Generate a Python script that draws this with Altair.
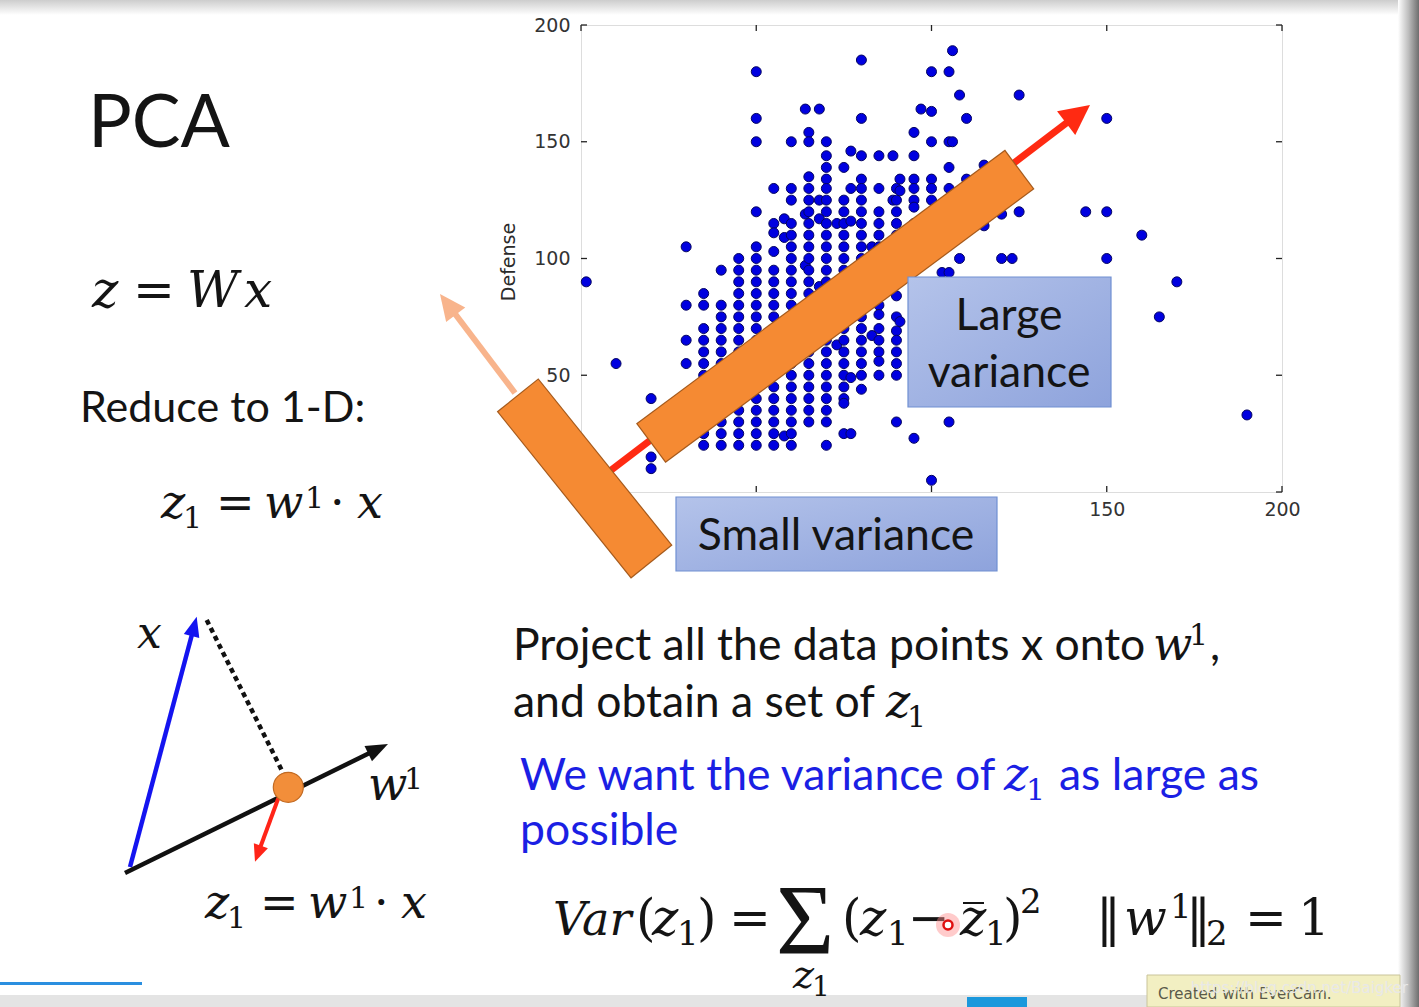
import math
import altair as alt
import pandas as pd

# ---------------------------------------------------------------------------
# Scatter values: Defense readings grouped by Attack value
# ---------------------------------------------------------------------------
DEFENSE_BY_ATTACK = {
    1.5: [90],
    10: [55],
    20: [40, 15, 10],
    30: [105, 80, 65, 55],
    35: [85, 80, 70, 65, 60, 55, 50, 45, 30, 25, 20],
    40: [95, 80, 75, 70, 65, 60, 55, 50, 45, 40, 35, 30, 25, 20],
    45: [100, 95, 90, 85, 80, 75, 70, 65, 60, 55, 50, 45, 40, 35, 30, 25, 20],
    50: [180, 160, 150, 120, 105, 100, 95, 90, 85, 80, 75, 70, 65, 60, 55, 50,
         45, 40, 35, 30, 25, 20],
    55: [130, 115, 111, 103, 95, 90, 85, 80, 75, 70, 65, 60, 55, 50, 45, 40,
         35, 30, 25, 20],
    58: [117, 109, 24],
    60: [150, 130, 125, 115, 110, 105, 100, 95, 90, 85, 80, 75, 70, 65, 60, 55,
         50, 45, 40, 35, 30, 25, 20],
    64: [164, 119, 97],
    65: [154, 150, 135, 130, 125, 120, 115, 110, 105, 100, 95, 90, 85, 80, 75,
         70, 65, 60, 55, 50, 45, 40, 35, 30],
    68: [164, 125, 117, 88],
    70: [150, 144, 139, 134, 130, 125, 120, 115, 110, 105, 100, 95, 90, 85, 80,
         75, 70, 65, 60, 55, 50, 45, 40, 35, 30, 20],
    73: [115, 63],
    75: [139, 125, 120, 115, 110, 105, 100, 95, 90, 85, 80, 75, 70, 65, 60, 55,
         50, 45, 40, 38, 25],
    77: [146, 130, 116, 49, 25],
    80: [185, 160, 144, 134, 130, 125, 120, 115, 110, 105, 100, 95, 90, 85, 80,
         75, 70, 65, 60, 55, 50, 44],
    83: [105, 67],
    85: [144, 130, 120, 115, 110, 105, 100, 95, 90, 85, 80, 76, 70, 65, 60, 56, 50],
    89: [144, 125],
    90: [130, 125, 120, 115, 110, 100, 95, 90, 84, 75, 69, 65, 60, 55, 50, 30],
    91: [134, 129, 73],
    95: [154, 144, 134, 130, 125, 122, 115, 110, 105, 100, 23],
    97: [164],
    100: [180, 163, 150, 134, 130, 125, 120, 110, 105, 5],
    103: [94],
    105: [180, 150, 139, 130, 120, 94, 30],
    106: [189, 150],
    108: [170, 100],
    110: [160, 134, 125],
    115: [140, 114],
    120: [119, 100],
    123: [100],
    125: [170, 120],
    144: [120],
    150: [160, 120, 100],
    160: [110],
    165: [75],
    170: [90],
    190: [33],
}
TICK_VALUES = [0, 50, 100, 150, 200]
X_LABELS = [150, 200]          # 0, 50 and 100 sit under the annotation boxes
Y_LABELS = [50, 100, 150, 200]  # 0 sits under the small slab

attack, defense = [], []
for a, ds in DEFENSE_BY_ATTACK.items():
    for d in ds:
        attack.append(a)
        defense.append(d)
points = pd.DataFrame({"Attack": attack, "Defense": defense})
ticks = pd.DataFrame({"v": TICK_VALUES})

# ---------------------------------------------------------------------------
# Page geometry (the scatter's data rectangle sits inside a 1419x1007 slide)
# ---------------------------------------------------------------------------
PAGE_W, PAGE_H = 1419, 1007
LEFT, TOP, W, H = 581, 25, 701, 467

SANS = "Lato"
MATH = "DejaVu Serif"
INK = "#141414"
BLUE_TXT = "#1b1fe4"
BODY = 44.5
ONE = alt.Data(values=[{}])


def px(x):
    return x - LEFT


def py(y):
    return y - TOP


def text(s, x, y, size, font=SANS, style="normal", color=INK, align="left",
         baseline="alphabetic", angle=0):
    return alt.Chart(ONE).mark_text(
        text=s, font=font, fontSize=size, fontStyle=style, color=color,
        align=align, baseline=baseline, angle=angle,
    ).encode(x=alt.value(px(x)), y=alt.value(py(y)))


def segment(x1, y1, x2, y2, color, width, dash=None, opacity=1.0):
    kw = dict(color=color, strokeWidth=width, strokeCap="butt", opacity=opacity)
    if dash:
        kw["strokeDash"] = dash
    return alt.Chart(ONE).mark_rule(**kw).encode(
        x=alt.value(px(x1)), y=alt.value(py(y1)),
        x2=alt.value(px(x2)), y2=alt.value(py(y2)),
    )


def box(x1, y1, x2, y2, fill, stroke=None, sw=0.0):
    kw = dict(fill=fill, strokeWidth=sw)
    if stroke:
        kw["stroke"] = stroke
    return alt.Chart(ONE).mark_rect(**kw).encode(
        x=alt.value(px(x1)), y=alt.value(py(y1)),
        x2=alt.value(px(x2)), y2=alt.value(py(y2)),
    )


def dot(x, y, diameter, fill, stroke=None, sw=0.0, opacity=1.0):
    kw = dict(shape="circle", filled=True, size=diameter ** 2, fill=fill,
              opacity=opacity, strokeWidth=sw)
    if stroke:
        kw["stroke"] = stroke
    return alt.Chart(ONE).mark_point(**kw).encode(
        x=alt.value(px(x)), y=alt.value(py(y)))


def arrow(x0, y0, xt, yt, color, width, head_len, head_w, opacity=1.0):
    dx, dy = xt - x0, yt - y0
    n = math.hypot(dx, dy)
    ux, uy = dx / n, dy / n
    sx, sy = xt - ux * head_len * 0.7, yt - uy * head_len * 0.7
    shaft = segment(x0, y0, sx, sy, color, width, opacity=opacity)
    cx, cy = xt - ux * head_len / 2, yt - uy * head_len / 2
    ang = math.degrees(math.atan2(ux, -uy)) % 360
    k = head_w / head_len
    head = alt.Chart(ONE).mark_point(
        shape=f"M0,-1L{k:.3f},1L{-k:.3f},1Z", filled=True, fill=color,
        strokeWidth=0, size=head_len ** 2, angle=round(ang, 2), opacity=opacity,
    ).encode(x=alt.value(px(cx)), y=alt.value(py(cy)))
    return [shaft, head]


def slab(x1, y1, x2, y2, width, fill, edge):
    # rotated rectangle drawn as a wide butt-capped rule with a darker rim
    n = math.hypot(x2 - x1, y2 - y1)
    ux, uy = (x2 - x1) / n, (y2 - y1) / n
    return [
        segment(x1 - ux * 1.2, y1 - uy * 1.2, x2 + ux * 1.2, y2 + uy * 1.2, edge, width + 2.4),
        segment(x1, y1, x2, y2, fill, width),
    ]


# ---------------------------------------------------------------------------
# Scatter with matplotlib-like framing
# ---------------------------------------------------------------------------
xs = alt.Scale(domain=[0, 200], nice=False, zero=False)
ys = alt.Scale(domain=[0, 200], nice=False, zero=False)
label_kw = dict(labelFont="DejaVu Sans", labelFontSize=19, labelColor="#333333",
                domain=False, ticks=False, tickSize=0, grid=False, title=None,
                labelOverlap=False)
xaxis = alt.Axis(labelPadding=8, labelFlush=False, values=X_LABELS, **label_kw)
yaxis = alt.Axis(labelPadding=11, values=Y_LABELS, **label_kw)

scatter = alt.Chart(points).mark_point(
    filled=True, shape="circle", size=100, fill="#0000e0", stroke="#050560",
    strokeWidth=1, opacity=1,
).encode(
    x=alt.X("Attack:Q", scale=xs, axis=xaxis),
    y=alt.Y("Defense:Q", scale=ys, axis=yaxis),
)

tick_style = dict(color="#222222", strokeWidth=1.3)
x_ticks_bottom = alt.Chart(ticks).mark_rule(**tick_style).encode(
    x=alt.X("v:Q", scale=xs, axis=xaxis), y=alt.value(H), y2=alt.value(H - 6))
x_ticks_top = alt.Chart(ticks).mark_rule(**tick_style).encode(
    x=alt.X("v:Q", scale=xs, axis=xaxis), y=alt.value(0), y2=alt.value(6))
y_ticks_left = alt.Chart(ticks).mark_rule(**tick_style).encode(
    y=alt.Y("v:Q", scale=ys, axis=yaxis), x=alt.value(0), x2=alt.value(6))
y_ticks_right = alt.Chart(ticks).mark_rule(**tick_style).encode(
    y=alt.Y("v:Q", scale=ys, axis=yaxis), x=alt.value(W), x2=alt.value(W - 6))

layers = []

# slide chrome: grey fade at the top, dark rim on the right
top_fade = alt.LinearGradient(
    gradient="linear", x1=0, x2=0, y1=0, y2=1,
    stops=[alt.GradientStop(color="#cdcdcd", offset=0),
           alt.GradientStop(color="#ffffff", offset=1)])
right_rim = alt.LinearGradient(
    gradient="linear", x1=0, x2=1, y1=0, y2=0,
    stops=[alt.GradientStop(color="#ffffff", offset=0),
           alt.GradientStop(color="#bdbdbd", offset=0.5),
           alt.GradientStop(color="#6e6e6e", offset=1)])
layers += [
    box(0, 0, PAGE_W, 15, top_fade),
    box(1398, 0, PAGE_W, PAGE_H, right_rim),
]

layers += [scatter, x_ticks_bottom, x_ticks_top, y_ticks_left, y_ticks_right]
layers.append(text("Defense", 509, 262, 19, font="DejaVu Sans", color="#2a2a2a",
                   align="center", baseline="middle", angle=270))

# principal direction (red) and the orthogonal one (peach)
layers += arrow(585, 490, 1090, 105, "#ff2a12", 7, 30, 30)
layers += slab(651.7, 442.5, 1018.8, 170.0, 47, "#f58a33", "#a55a1c")
layers += arrow(515, 393, 440, 294, "#f8b48c", 6, 26, 24)
layers += slab(518.3, 395.8, 651.0, 561.0, 51, "#f58a33", "#a55a1c")

blue_fill = alt.LinearGradient(
    gradient="linear", x1=0, x2=1, y1=0, y2=1,
    stops=[alt.GradientStop(color="#b4c3ea", offset=0),
           alt.GradientStop(color="#8ea3dc", offset=1)])
layers += [
    box(908, 277, 1111, 407, blue_fill, "#7090d2", 1.2),
    text("Large", 1009, 330, BODY, align="center"),
    text("variance", 1009, 387, BODY, align="center"),
    box(676, 497, 997, 571, blue_fill, "#7090d2", 1.2),
    text("Small variance", 836, 550, BODY, align="center"),
]

# ---------------------------------------------------------------------------
# Left column
# ---------------------------------------------------------------------------
layers += [
    text("PCA", 88, 147, 73),
    text("z", 92, 307, 50, font=MATH, style="italic"),
    text("=", 133, 307, 50, font=MATH),
    text("W", 187, 307, 50, font=MATH, style="italic"),
    text("x", 244, 307, 50, font=MATH, style="italic"),
    text("Reduce to 1-D:", 80, 422, 43),
]


def projection_formula(dx, dy):
    return [
        text("z", 161 + dx, 518 + dy, 46, font=MATH, style="italic"),
        text("1", 183 + dx, 528 + dy, 30, font=MATH),
        text("=", 216 + dx, 518 + dy, 46, font=MATH),
        text("w", 264 + dx, 518 + dy, 46, font=MATH, style="italic"),
        text("1", 305 + dx, 508 + dy, 30, font=MATH),
        text("·", 330 + dx, 518 + dy, 46, font=MATH),
        text("x", 357 + dx, 518 + dy, 46, font=MATH, style="italic"),
    ]


layers += projection_formula(0, 0)

# projection sketch
layers += [segment(206.7, 620, 283.3, 773.3, "#111111", 4.5, dash=[5, 4])]
layers += arrow(130, 867, 196.7, 616.7, "#1414f0", 4.5, 20, 16)
layers += arrow(125, 873, 388, 744, "#111111", 4.5, 22, 17)
layers += arrow(278.3, 798.3, 255, 861.7, "#ff2418", 4, 17, 15)
layers += [
    dot(288.3, 787.3, 30, "#f28e3a", "#c26a22", 1.2),
    text("x", 137, 648, 44, font=MATH, style="italic"),
    text("w", 368, 800, 46, font=MATH, style="italic"),
    text("1", 404, 789, 30, font=MATH),
]
layers += projection_formula(44, 400)

# ---------------------------------------------------------------------------
# Right column text and variance formula
# ---------------------------------------------------------------------------
layers += [
    text("Project all the data points x onto", 513, 660, BODY),
    text("w", 1153, 660, 46, font=MATH, style="italic"),
    text("1", 1189, 645, 30, font=MATH),
    text(",", 1210, 660, BODY),
    text("and obtain a set of", 513, 717, BODY),
    text("z", 886, 717, 46, font=MATH, style="italic"),
    text("1", 907, 727, 30, font=MATH),
    text("We want the variance of", 520, 790, BODY, color=BLUE_TXT),
    text("z", 1004, 790, 46, font=MATH, style="italic", color=BLUE_TXT),
    text("1", 1026, 800, 30, font=MATH, color=BLUE_TXT),
    text("as large as", 1059, 790, BODY, color=BLUE_TXT),
    text("possible", 520, 845, BODY, color=BLUE_TXT),
]

# player bar at the bottom (drawn before the formula so the limit text sits on it)
layers += [
    box(0, 995, 1398, PAGE_H, "#e4e4e4"),
    box(0, 982, 142, 985, "#2a8fe0"),
    box(967, 997, 1027, PAGE_H, "#1b98dc"),
]

eq = [
    ("Var", 553, 935, 46, "italic"), ("(", 636, 935, 50, "normal"),
    ("z", 652, 935, 50, "italic"), ("1", 677, 945, 34, "normal"),
    (")", 697, 935, 50, "normal"), ("=", 729, 935, 50, "normal"),
    ("(", 842, 935, 50, "normal"), ("z", 860, 935, 50, "italic"),
    ("1", 887, 945, 34, "normal"), ("−", 908, 935, 50, "normal"),
    ("z", 960, 935, 50, "italic"), ("1", 985, 945, 34, "normal"),
    (")", 1003, 935, 50, "normal"), ("2", 1020, 913, 34, "normal"),
    ("‖", 1096, 935, 50, "normal"), ("w", 1124, 935, 50, "italic"),
    ("1", 1170, 918, 34, "normal"), ("‖", 1186, 935, 50, "normal"),
    ("2", 1206, 945, 34, "normal"), ("=", 1245, 935, 50, "normal"),
    ("1", 1298, 935, 50, "normal"),
    ("z", 793, 988, 40, "italic"), ("1", 812, 996, 28, "normal"),
]
for s, x, y, size, style in eq:
    layers.append(text(s, x, y, size, font=MATH, style=style))
layers += [
    text("Σ", 776, 953, 100, font="Liberation Serif"),
    segment(963, 903, 984, 903, INK, 2),
    dot(948, 925, 24, "#ff8c8c", opacity=0.45),
    dot(948, 925, 9, "#ffffff", "#e01010", 2.5),
]

layers += [
    box(1147, 975, 1400, PAGE_H, "#f2efc2", "#c9c49a", 1),
    text("Created with EverCam.", 1158, 999, 15, font="DejaVu Sans", color="#5a5a4a"),
    text("https://blog.csdn.net/Baigker", 1408, 993, 15, font="DejaVu Sans",
         color="#e8e8e8", align="right"),
]

chart = alt.layer(*layers).properties(
    width=W, height=H,
    padding={"left": LEFT, "top": TOP, "right": PAGE_W - LEFT - W,
             "bottom": PAGE_H - TOP - H},
    autosize="none",
).configure_view(stroke="#1e1e1e", strokeWidth=1.5).configure(background="white")

chart.save("out.html", embed_options={"renderer": "svg", "actions": False})
